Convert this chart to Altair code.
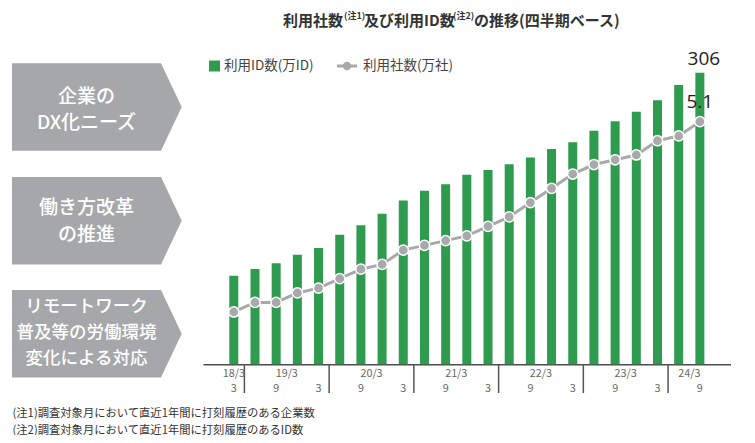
import altair as alt
import pandas as pd

# ---- data ----
months = [3, 6, 9, 12, 3, 6, 9, 12, 3, 6, 9, 12, 3, 6, 9, 12, 3, 6, 9, 12, 3, 6, 9]
ids = [93, 100, 106, 115, 122, 136, 146, 158, 172, 182, 189, 199, 204, 210, 217,
       226, 233, 245, 255, 265, 277, 293, 306]
companies = [1.1, 1.3, 1.3, 1.5, 1.6, 1.8, 2.0, 2.1, 2.4, 2.5, 2.6, 2.7, 2.9, 3.1,
             3.4, 3.7, 4.0, 4.2, 4.3, 4.4, 4.7, 4.8, 5.1]
period_labels = ["18/3", "19/3", "20/3", "21/3", "22/3", "23/3", "24/3"]
period_sizes = [1, 4, 4, 4, 4, 4, 2]
shown_months = [3, 9]

title_parts = ["利用社数", "(注1)", "及び利用ID数", "(注2)", "の推移(四半期ベース)"]
legend_labels = ["利用ID数(万ID)", "利用社数(万社)"]
box_texts = ["企業の\nDX化ニーズ", "働き方改革\nの推進", "リモートワーク\n普及等の労働環境\n変化による対応"]
notes = ["(注1)調査対象月において直近1年間に打刻履歴のある企業数",
         "(注2)調査対象月において直近1年間に打刻履歴のあるID数"]

# ---- tables ----
df = pd.DataFrame({"i": list(range(len(ids))), "month": months, "ids": ids, "companies": companies})
starts, acc = [], 0
for s in period_sizes:
    starts.append(acc)
    acc += s
grp = pd.DataFrame({"i": [st + (sz - 1) / 2 for st, sz in zip(starts, period_sizes)],
                    "label": period_labels})
div = pd.DataFrame({"i": [st - 0.5 for st in starts[1:]]})
mon = df[df["month"].isin(shown_months)].copy()
mon["mlabel"] = mon["month"].astype(str)
last = df.tail(1)
one = pd.DataFrame({"k": [0]})

# ---- style ----
GREEN = "#2e9b4e"
LGREY = "#a9a9ac"
BOX = "#a6a7aa"
DARK = "#333333"
JP = "Noto Sans CJK JP"
OX, OY = 203, 60          # page position of plot origin
W, H = 527.5, 304.3

xs = alt.X("i:Q", scale=alt.Scale(domain=[-1.218, 23.21], nice=False, zero=False),
           axis=alt.Axis(domain=True, domainColor="#4d4d4d", domainWidth=1.5, ticks=False,
                         labels=False, grid=False, title=None))
ybar = alt.Y("ids:Q", scale=alt.Scale(domain=[0, 319.3], nice=False), axis=None)
yline = alt.Y("companies:Q", scale=alt.Scale(domain=[0, 6.397], nice=False), axis=None)

bars = alt.Chart(df).mark_bar(color=GREEN, width=9).encode(x=xs, y=ybar)
line = alt.Chart(df).mark_line(color=LGREY, strokeWidth=3).encode(x=xs, y=yline)
pts = alt.Chart(df).mark_point(shape="circle", filled=True, fill=LGREY, stroke="white",
                               strokeWidth=1.5, size=105, opacity=1).encode(x=xs, y=yline)
lab_ids = alt.Chart(last).mark_text(fontSize=19, font="Open Sans", color="#222", dx=4, dy=-14,
                                    baseline="middle").encode(x=xs, y=ybar, text=alt.Text("ids:Q"))
lab_co = alt.Chart(last).mark_text(fontSize=19, font="Open Sans", color="#222", dy=-20,
                                   baseline="middle").encode(x=xs, y=yline,
                                                             text=alt.Text("companies:Q", format=".1f"))

dividers = alt.Chart(div).mark_rule(color="#555", strokeWidth=1.5).encode(
    x=xs, y=alt.value(H), y2=alt.value(H + 28.7))
grp_text = alt.Chart(grp).mark_text(fontSize=10.8, font=JP, color="#666", baseline="middle").encode(
    x=xs, y=alt.value(373.5 - OY), text="label:N")
mon_text = alt.Chart(mon).mark_text(fontSize=10.8, font=JP, color="#666", baseline="middle").encode(
    x=xs, y=alt.value(388.5 - OY), text="mlabel:N")


def txt(s, px, py, size, color=DARK, weight="normal", align="left", font=JP, lh=None):
    kw = dict(text=s, align=align, baseline="middle", fontSize=size, font=font,
              fontWeight=weight, color=color)
    if lh is not None:
        kw.update(lineBreak="\n", lineHeight=lh)
        py = py - (s.count("\n")) * lh / 2
    return alt.Chart(one).mark_text(**kw).encode(x=alt.value(px - OX), y=alt.value(py - OY))


layers = []
# title
tx = [283, 344, 364, 453, 474]
tsz = [15, 9, 15, 9, 15]
tdy = [21, 16, 21, 16, 21]
for s, x0, fs, yy in zip(title_parts, tx, tsz, tdy):
    layers.append(txt(s, x0, yy, fs, weight="bold"))

# legend
layers.append(alt.Chart(one).mark_point(shape="square", filled=True, fill=GREEN, opacity=1,
                                        size=121, strokeWidth=0)
              .encode(x=alt.value(214.5 - OX), y=alt.value(66 - OY)))
layers.append(txt(legend_labels[0], 224, 66, 13.5, color="#444"))
layers.append(alt.Chart(one).mark_rule(color=LGREY, strokeWidth=3)
              .encode(x=alt.value(337 - OX), x2=alt.value(357 - OX), y=alt.value(66 - OY)))
layers.append(alt.Chart(one).mark_point(shape="circle", filled=True, fill=LGREY, opacity=1,
                                        size=70, strokeWidth=0)
              .encode(x=alt.value(347 - OX), y=alt.value(66 - OY)))
layers.append(txt(legend_labels[1], 363, 66, 13.5, color="#444"))

# left chevron boxes
PATH = "M -1 -0.515 L 0.756 -0.515 L 1 0 L 0.756 0.515 L -1 0.515 Z"
box_cy = [107, 220.7, 333.8]
text_cy = [110, 221.5, 332.5]
box_fs = [19, 19, 17.5]
box_lh = [26, 27, 26]
for t, cy, ty, fs, lh in zip(box_texts, box_cy, text_cy, box_fs, box_lh):
    layers.append(alt.Chart(one).mark_point(shape=PATH, size=169.7 ** 2, filled=True, fill=BOX,
                                            opacity=1, strokeWidth=0)
                  .encode(x=alt.value(96.85 - OX), y=alt.value(cy - OY)))
    layers.append(txt(t, 86.5, ty, fs, color="white", weight=500, align="center", lh=lh))

# footnotes
layers.append(txt(notes[0], 12.5, 414, 11.3, color="#333"))
layers.append(txt(notes[1], 12.5, 430.5, 11.3, color="#333"))

chart = alt.layer(bars, line, pts, lab_ids, lab_co, dividers, grp_text, mon_text, *layers
                  ).resolve_scale(y="independent").properties(
    width=W, height=H,
    padding={"left": OX - 8, "top": OY - 8, "right": 739 - (OX - 8) - W, "bottom": 427 - (OY - 8) - H},
    autosize=alt.AutoSizeParams(type="none"),
    background="white",
).configure_view(stroke=None)

chart.save("out.html", embed_options={"renderer": "svg", "actions": False})
